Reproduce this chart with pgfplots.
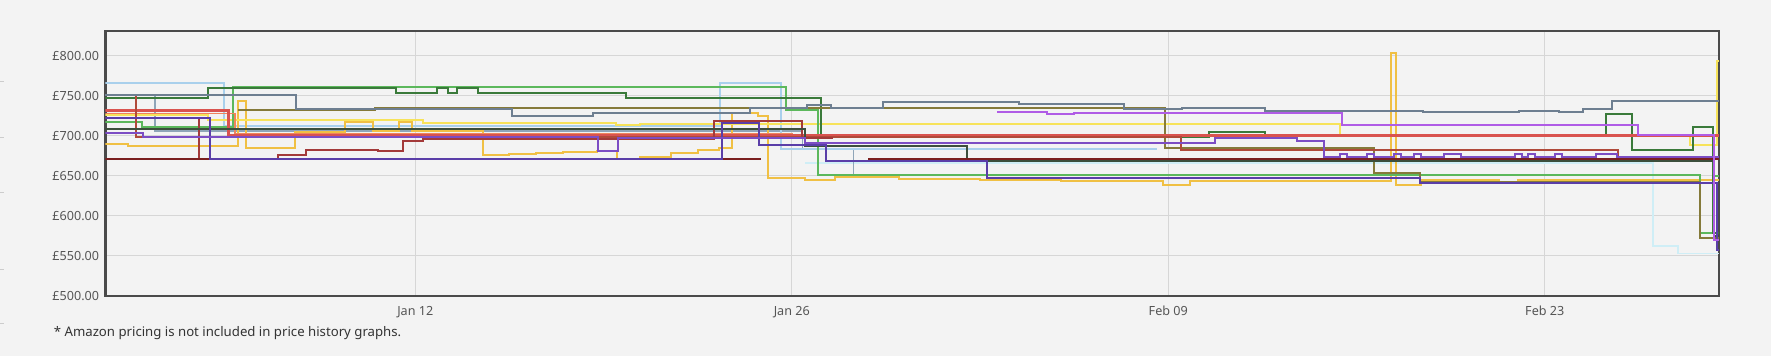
\documentclass[border=0pt]{standalone}
\usepackage{fontspec}
\setmainfont{Noto Sans}
\usepackage{pgfplots}
\pgfplotsset{compat=1.18}
\definecolor{bg}{HTML}{F3F3F3}
\definecolor{gridc}{HTML}{D6D6D6}
\definecolor{framec}{HTML}{4A4A4A}
\definecolor{labc}{HTML}{555555}
\definecolor{slate}{HTML}{6E7F91}
\definecolor{slatetwo}{HTML}{8FA5B8}
\definecolor{lightblue}{HTML}{A9D0EC}
\definecolor{lightcyan}{HTML}{CFEEF6}
\definecolor{grn}{HTML}{5CB85C}
\definecolor{dkgreen}{HTML}{3A7A3A}
\definecolor{olive}{HTML}{857A3A}
\definecolor{yel}{HTML}{F7E35A}
\definecolor{golden}{HTML}{F0C044}
\definecolor{redc}{HTML}{D9534F}
\definecolor{redbrown}{HTML}{B04A3A}
\definecolor{orangec}{HTML}{F0845C}
\definecolor{maroon}{HTML}{7A1F1F}
\definecolor{redstep}{HTML}{A33A3A}
\definecolor{indigo}{HTML}{5A3EA8}
\definecolor{purp}{HTML}{7C4DC4}
\definecolor{violet}{HTML}{B05CE6}
\definecolor{darkgg}{HTML}{3C4F3C}
\begin{document}
\begin{tikzpicture}
\fill[bg] (0,0) rectangle (885.5pt,178pt);
\foreach \yy in {137.2,109,81.5,43,16} {\draw[gray!40, line width=0.5pt] (0,\yy pt) -- (2pt,\yy pt);}
\begin{axis}[at={(52.5pt,30pt)}, anchor=south west, width=807pt, height=132.5pt, scale only axis,
 xmin=0.48, xmax=60.48, ymin=500, ymax=831,
 xtick={12,26,40,54}, xticklabels={Jan 12,Jan 26,Feb 09,Feb 23},
 ytick={500,550,600,650,700,750,800},
 yticklabels={£500.00,£550.00,£600.00,£650.00,£700.00,£750.00,£800.00},
 grid=major, grid style={draw=gridc, line width=0.5pt},
 axis line style={draw=framec, line width=1.2pt},
 major tick length=0pt,
 tick label style={font=\fontsize{6.3}{7}\selectfont, text=labc, inner sep=0pt},
 yticklabel style={xshift=-3pt},
 xticklabel style={yshift=-5pt},
 axis background/.style={fill=bg},
 every axis plot/.append style={const plot, line width=1pt, no marks},
]
% light cyan
\addplot[lightcyan, line width=0.8pt] coordinates {(26.5,666)(58.03,562)(58.96,553)(60.48,553)};
% slate two
\addplot[slatetwo, line width=0.8pt] coordinates {(0.48,751)(2.32,706)(25.8,706)(26.4,683)(28.29,651)(30,651)};
% light blue
\addplot[lightblue] coordinates {(0.48,766)(4.90,712)(23.34,766)(25.61,683)(39.59,683)};
% golden
\addplot[golden] coordinates {(0.48,690)(1.3,687)(5.42,743)(5.72,685)(7.51,705)(9.40,717)(10.41,706)(11.41,717)(11.86,706)(14.50,676)(15.5,677)(16.5,678)(17.5,679.5)(18.77,681)(19.51,671)(20.37,674)(21.5,678)(22.5,682)(23.3,685)(23.79,729)(24.76,725)(25.13,647)(26.5,645)(27.6,649)(30,646)(33,645)(36,644)(39.8,638)(40.8,644)(48.3,803)(48.45,639)(49.4,645)(52.3,641)(53.0,645)(60.48,645)};
% yellow
\addplot[yel] coordinates {(0.48,726)(4.31,720)(12.3,716)(19.48,713)(20.37,715)(46.39,701)(59.40,689)(60.41,793)(60.48,793)};
% green
\addplot[grn] coordinates {(0.48,717)(1.82,711)(5.24,761)(25.80,732.5)(26.99,651)(59.77,579)(60.26,650)(60.48,650)};
% dark green
\addplot[dkgreen] coordinates {(0.48,747)(4.31,760)(11.30,754)(12.82,760)(13.23,754)(13.57,760)(14.35,754)(19.85,747)(27.10,699)(41.52,705)(43.60,701)(56.28,727.5)(57.25,682.5)(59.51,711.6)(60.26,579)(60.48,579)};
% olive
\addplot[olive] coordinates {(5.42,732)(10.52,734.6)(39.89,684.6)(47.66,653)(49.37,642)(59.77,572)(60.48,572)};
% slate
\addplot[slate] coordinates {(0.48,751)(7.58,734)(15.61,725)(18.62,729)(24.46,735)(26.58,738)(27.47,735)(29.40,742)(34.46,740)(38.36,733)(40.52,735)(43.60,731.5)(49.48,730)(53.05,731.5)(54.54,730)(55.43,734)(56.50,744)(60.48,744)};
% orange
\addplot[orangec, line width=0.8pt] coordinates {(0.48,728)(5.3,703)(26,700.5)(60.48,700.5)};
% red thick
\addplot[redc, line width=1.5pt] coordinates {(0.48,732)(5.05,700)(60.48,700)};
% red-brown
\addplot[redbrown] coordinates {(1.56,749)(1.62,698)(40.48,682.5)(56.73,672)(60.48,672)};
% red steps
\addplot[redstep] coordinates {(0.48,722)(3.94,671)(6.91,676)(7.95,682.5)(10.63,681)(11.56,693)(12.3,696)(23.12,718)(26.39,697)(27.54,697)};
% dark grey-green
\addplot[darkgg] coordinates {(0.48,709)(26.5,687)(32.52,668)(60.3,575)(60.48,575)};
% maroon
\addplot[maroon, line width=1.2pt] coordinates {(0.48,671)(24.87,671)};
\addplot[maroon, line width=1.2pt] coordinates {(28.84,671)(60.48,671)};
% indigo
\addplot[indigo] coordinates {(0.48,722)(4.35,671)(23.42,716)(24.8,689)(27.28,668)(33.27,647)(49.37,641)(60.41,557)(60.48,557)};
% purple
\addplot[purp] coordinates {(0.48,704)(1.86,699)(18.81,681)(19.55,697)(26.5,691)(41.74,697)(44.79,694)(45.8,673)(46.39,677)(46.65,673)(47.39,677)(47.65,673)(48.40,677)(48.66,673)(49.14,677)(49.40,673)(50.26,677)(50.9,673)(52.90,677)(53.16,673)(53.38,677)(53.64,673)(54.39,677)(54.65,673)(55.92,677)(56.67,673)(60.48,673)};
% violet
\addplot[violet] coordinates {(33.64,730)(35.5,727.5)(36.5,729)(46.47,714)(57.47,701)(60.3,570)(60.48,570)};
\end{axis}
\node[anchor=west, inner sep=0pt, font=\fontsize{6.6}{8}\selectfont, text=black!80] at (26.5pt,11.5pt) {* Amazon pricing is not included in price history graphs.};
\end{tikzpicture}
\end{document}
